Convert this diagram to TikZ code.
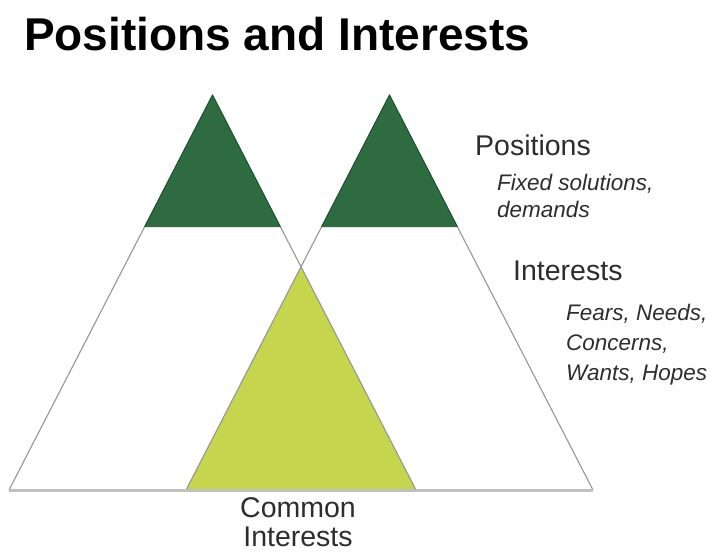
\documentclass[tikz,border=0pt]{standalone}
\usepackage{fontspec}
\setmainfont{Liberation Sans}
\usetikzlibrary{calc}
\definecolor{darkgreen}{RGB}{46,107,64}
\definecolor{darkedge}{RGB}{22,78,42}
\definecolor{limegreen}{RGB}{197,214,78}
\definecolor{outline}{RGB}{150,150,150}
\definecolor{groundgray}{RGB}{192,192,192}
\definecolor{textgray}{RGB}{45,45,45}
\begin{document}
\begin{tikzpicture}[x=1pt,y=-1pt,
  pyramid/.style={draw=outline,line width=1.1pt},
  topcap/.style={fill=darkgreen,draw=darkedge,line width=0.8pt,line join=round},
  common/.style={fill=limegreen},
  ground/.style={draw=groundgray,line width=3pt},
  heading/.style={font=\fontsize{28.5}{30}\selectfont,text=textgray,inner sep=0pt},
  detail/.style={font=\fontsize{22.5}{24}\selectfont\itshape,text=textgray,inner sep=0pt},
  title/.style={font=\fontsize{46}{48}\selectfont\bfseries,inner sep=0pt}]
\useasboundingbox (0,0) rectangle (719,552);

% corners of the two large triangles
\coordinate (LA) at (212.5,95);
\coordinate (LL) at (9,490);
\coordinate (LR) at (416,490);
\coordinate (RA) at (389.5,95);
\coordinate (RL) at (186,490);
\coordinate (RR) at (593,490);
% where the inner edges cross
\coordinate (X) at (301,266.8);

% overlap of the two triangles: common interests
\fill[common] (X) -- (RL) -- (LR) -- cycle;

% outlines of the two large triangles
\draw[pyramid] (LL) -- (LA) -- (LR);
\draw[pyramid] (RL) -- (RA) -- (RR);

% dark tips: positions
\coordinate (LtL) at ($(LA)!0.3334!(LL)$);
\coordinate (LtR) at ($(LA)!0.3334!(LR)$);
\coordinate (RtL) at ($(RA)!0.3334!(RL)$);
\coordinate (RtR) at ($(RA)!0.3334!(RR)$);
\filldraw[topcap] (LtL) -- (LA) -- (LtR) -- cycle;
\filldraw[topcap] (RtL) -- (RA) -- (RtR) -- cycle;

% ground line
\draw[ground] (LL) -- (RR);

% texts
\node[title,anchor=base west] (ttl) at (24,50) {Positions and Interests};
\node[heading,anchor=base west] (pos) at (475,155) {Positions};
\node[detail,anchor=base west] (pos1) at (497,190) {Fixed solutions,};
\node[detail,anchor=base west] (pos2) at (497,217) {demands};
\node[heading,anchor=base west] (int) at (513,280) {Interests};
\node[detail,anchor=base west] (int1) at (566,320) {Fears, Needs,};
\node[detail,anchor=base west] (int2) at (566,350) {Concerns,};
\node[detail,anchor=base west] (int3) at (566,380) {Wants, Hopes};
\node[heading,anchor=base] (com1) at (298,517) {Common};
\node[heading,anchor=base] (com2) at (298,546) {Interests};
\end{tikzpicture}
\end{document}
